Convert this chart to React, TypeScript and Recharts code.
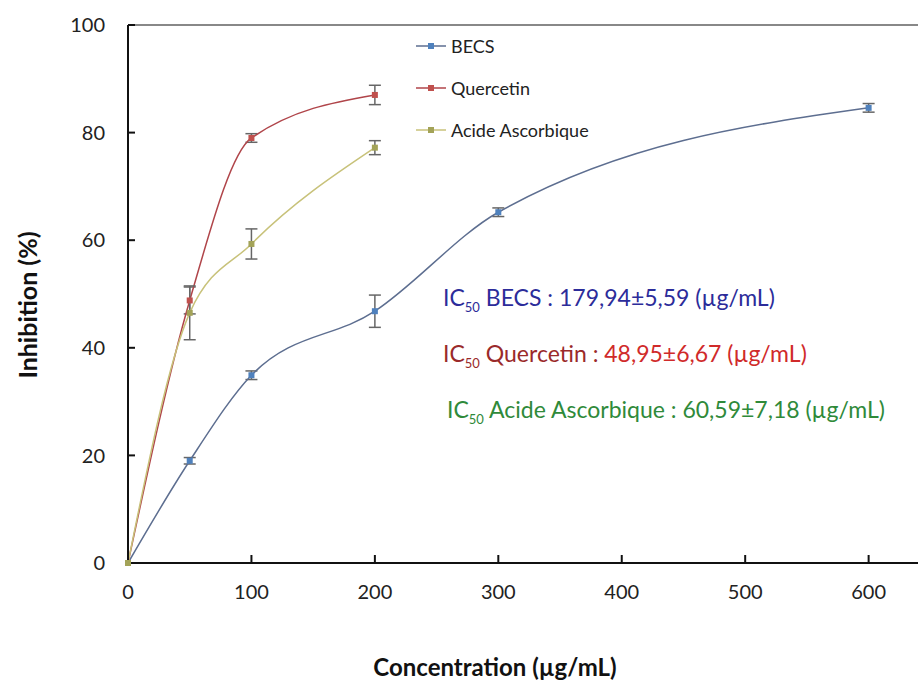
import React from "react";
import {
  ErrorBar,
  Legend,
  Line,
  LineChart,
  ReferenceLine,
  XAxis,
  YAxis,
} from "recharts";

const xTicks = [0, 100, 200, 300, 400, 500, 600];
const yTicks = [0, 20, 40, 60, 80, 100];
const seriesNames = ["BECS", "Quercetin", "Acide Ascorbique"];

const becsConc = [0, 50, 100, 200, 300, 600];
const becsInh = [0, 19, 34.9, 46.8, 65.2, 84.6];
const becsErr = [0, 0.6, 0.8, 3, 0.8, 0.8];

const quercetinConc = [0, 50, 100, 200];
const quercetinInh = [0, 48.8, 79, 87];
const quercetinErr = [0, 2.5, 0.8, 1.8];

const acideConc = [0, 50, 100, 200];
const acideInh = [0, 46.5, 59.3, 77.2];
const acideErr = [0, 5, 2.8, 1.3];

const toRows = (conc: number[], inh: number[], err: number[]) =>
  conc.map((c, i) => ({ conc: c, inh: inh[i], err: err[i] }));

const becsData = toRows(becsConc, becsInh, becsErr);
const quercetinData = toRows(quercetinConc, quercetinInh, quercetinErr);
const acideData = toRows(acideConc, acideInh, acideErr);

const FONT = "Lato, 'Open Sans', sans-serif";

const markerColor: Record<string, string> = {
  BECS: "#4f81bd",
  Quercetin: "#c0504d",
  "Acide Ascorbique": "#a3a358",
};

const Marker = ({ cx, cy, fill }: any) => {
  if (cx == null || cy == null) return null;
  return <rect x={cx - 3} y={cy - 3} width={6} height={6} fill={fill} />;
};

const LegendBox = ({ payload }: any) => (
  <div style={{ fontFamily: FONT, fontSize: 18, color: "#222" }}>
    {(payload || []).map((p: any) => (
      <div
        key={p.value}
        style={{ display: "flex", alignItems: "center", height: 42 }}
      >
        <svg width={34} height={10}>
          <line x1={2} x2={32} y1={5} y2={5} stroke={p.color} strokeWidth={1.5} />
          <rect x={14} y={2} width={6} height={6} fill={markerColor[p.value]} />
        </svg>
        <span style={{ marginLeft: 3 }}>{p.value}</span>
      </div>
    ))}
  </div>
);

const sub = { fontSize: 13, verticalAlign: "sub" as const };

export default function App() {
  return (
    <div
      style={{
        position: "absolute",
        left: 0,
        top: 0,
        width: 918,
        height: 684,
        background: "#fff",
        fontFamily: FONT,
        overflow: "hidden",
      }}
    >
      <LineChart
        width={918}
        height={684}
        margin={{ top: 25, right: 0, bottom: 61, left: 0 }}
      >
        <XAxis
          type="number"
          dataKey="conc"
          domain={[0, 640]}
          ticks={xTicks}
          allowDuplicatedCategory={false}
          stroke="#111"
          strokeWidth={2}
          tickSize={-8}
          tickMargin={30}
          height={60}
          tick={{ fill: "#222", fontSize: 20, fontFamily: FONT }}
        />
        <YAxis
          type="number"
          domain={[0, 100]}
          ticks={yTicks}
          width={128}
          stroke="#111"
          strokeWidth={2}
          tickSize={-7}
          tickMargin={30}
          tick={{ fill: "#222", fontSize: 20, fontFamily: FONT }}
        />
        <ReferenceLine y={100} stroke="#888" strokeWidth={2} />
        <Legend
          layout="vertical"
          align="center"
          verticalAlign="middle"
          itemSorter={(item: any) => seriesNames.indexOf(item.value)}
          content={<LegendBox />}
          wrapperStyle={{ position: "absolute", left: 414, top: 25, width: 240 }}
        />
        <Line
          data={becsData}
          dataKey="inh"
          name="BECS"
          type="monotone"
          stroke="#5d6e90"
          strokeWidth={1.5}
          dot={<Marker fill="#4f81bd" />}
          isAnimationActive={false}
        >
          <ErrorBar dataKey="err" direction="y" width={6} stroke="#666" strokeWidth={1.5} />
        </Line>
        <Line
          data={quercetinData}
          dataKey="inh"
          name="Quercetin"
          type="monotone"
          stroke="#b0454a"
          strokeWidth={1.5}
          dot={<Marker fill="#c0504d" />}
          isAnimationActive={false}
        >
          <ErrorBar dataKey="err" direction="y" width={6} stroke="#666" strokeWidth={1.5} />
        </Line>
        <Line
          data={acideData}
          dataKey="inh"
          name="Acide Ascorbique"
          type="monotone"
          stroke="#c8c27a"
          strokeWidth={1.5}
          dot={<Marker fill="#a3a358" />}
          isAnimationActive={false}
        >
          <ErrorBar dataKey="err" direction="y" width={6} stroke="#666" strokeWidth={1.5} />
        </Line>
      </LineChart>

      <div
        style={{
          position: "absolute",
          left: 27,
          top: 305,
          transform: "translate(-50%, -50%) rotate(-90deg)",
          whiteSpace: "nowrap",
          fontWeight: 700,
          fontSize: 25,
          color: "#111",
        }}
      >
        Inhibition (%)
      </div>
      <div
        style={{
          position: "absolute",
          left: 495,
          top: 666,
          transform: "translate(-50%, -50%)",
          whiteSpace: "nowrap",
          fontWeight: 700,
          fontSize: 24,
          color: "#111",
        }}
      >
        Concentration (µg/mL)
      </div>

      <div style={{ position: "absolute", left: 443, top: 283, fontSize: 23, color: "#2c2c9a", whiteSpace: "nowrap" }}>
        IC<span style={sub}>50</span> BECS : 179,94±5,59 (µg/mL)
      </div>
      <div style={{ position: "absolute", left: 443, top: 339, fontSize: 23, whiteSpace: "nowrap" }}>
        <span style={{ color: "#9a2a2a" }}>
          IC<span style={sub}>50</span> Quercetin :{" "}
        </span>
        <span style={{ color: "#d02a2a" }}>48,95±6,67 (µg/mL)</span>
      </div>
      <div style={{ position: "absolute", left: 447, top: 395, fontSize: 23, color: "#2f8a3a", whiteSpace: "nowrap" }}>
        IC<span style={sub}>50</span> Acide Ascorbique : 60,59±7,18 (µg/mL)
      </div>
    </div>
  );
}
